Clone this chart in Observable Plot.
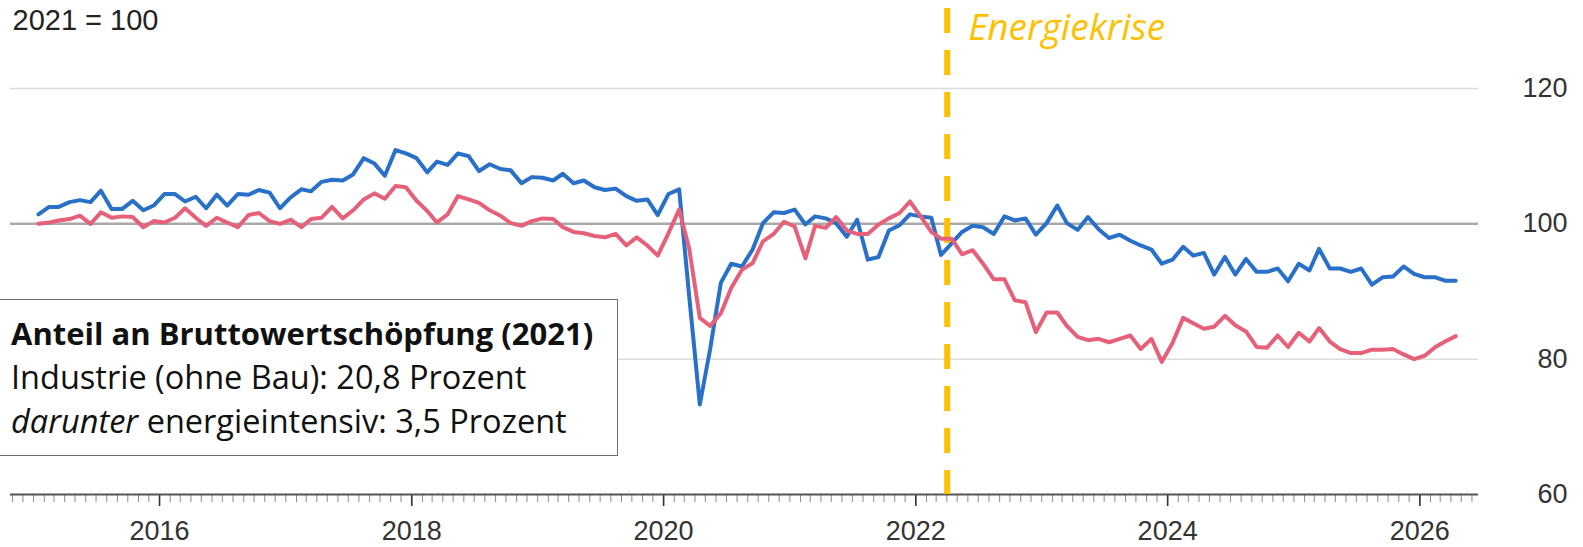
<!DOCTYPE html>
<html>
<head>
<meta charset="utf-8">
<script src="https://cdn.jsdelivr.net/npm/d3@7"></script>
<script src="https://cdn.jsdelivr.net/npm/@observablehq/plot@0.6"></script>
<style>
  html, body { margin: 0; padding: 0; background: #fff; }
  #wrap { position: relative; width: 1583px; height: 547px; overflow: hidden; }
  #legend {
    position: absolute; left: -2px; top: 299px; width: 620px; height: 157px;
    box-sizing: border-box; border: 1.5px solid #707070; background: #fff;
    font-family: "Open Sans", sans-serif; font-size: 32.5px; color: #111;
    padding: 11px 0 0 12px; line-height: 44px; white-space: nowrap;
  }
  #legend b { font-weight: 700; font-size: 31px; }
</style>
</head>
<body>
<div id="wrap"></div>
<script>
// ---- data ----
const startYear = 2015;          // first month: January 2015, monthly values
const industrie = [
  101.4,102.5,102.5,103.2,103.5,103.2,104.9,102.2,102.2,103.4,
  102.0,102.7,104.4,104.4,103.3,104.0,102.3,104.3,102.7,104.4,
  104.3,105.0,104.6,102.3,103.9,105.1,104.8,106.2,106.5,106.4,
  107.3,109.7,108.9,107.1,110.9,110.4,109.7,107.6,109.2,108.7,
  110.4,110.0,107.8,108.8,108.1,107.9,106.0,106.9,106.8,106.4,
  107.4,106.0,106.4,105.4,105.0,105.2,104.1,103.4,103.6,101.3,
  104.4,105.1,89.4,73.3,81.5,91.3,94.1,93.7,96.2,100.1,
  101.7,101.6,102.1,99.9,101.1,100.8,100.1,98.1,100.6,94.7,
  95.1,99.0,99.8,101.4,101.1,100.9,95.4,97.1,98.8,99.7,
  99.5,98.5,101.1,100.5,100.8,98.4,100.1,102.7,100.1,99.1,
  101.0,99.2,97.9,98.4,97.5,96.8,96.2,94.1,94.7,96.6,
  95.3,95.7,92.5,95.1,92.5,94.8,92.9,92.9,93.4,91.5,
  94.1,93.1,96.3,93.4,93.4,92.9,93.4,91.0,92.1,92.2,
  93.7,92.6,92.1,92.1,91.6,91.6
];
const energieintensiv = [
  100.0,100.2,100.5,100.7,101.2,100.0,101.7,100.9,101.1,101.0,
  99.5,100.4,100.2,100.9,102.3,100.9,99.7,100.9,100.2,99.5,
  101.3,101.6,100.4,100.0,100.6,99.5,100.7,100.9,102.5,100.8,
  102.0,103.6,104.5,103.7,105.6,105.4,103.4,101.9,100.2,101.4,
  104.1,103.6,103.1,102.0,101.2,100.1,99.7,100.4,100.8,100.7,
  99.5,98.8,98.6,98.2,98.0,98.5,96.8,98.0,96.8,95.3,
  98.6,102.1,96.4,86.1,84.9,86.8,90.5,93.2,94.2,97.4,
  98.5,100.3,99.6,94.9,99.7,99.4,101.0,99.0,98.5,98.5,
  99.9,100.8,101.6,103.3,101.1,98.8,97.8,97.8,95.5,96.1,
  94.1,91.8,91.8,88.7,88.4,84.0,86.9,86.9,84.9,83.3,
  82.8,83.0,82.5,83.0,83.5,81.5,83.0,79.6,82.4,86.1,
  85.3,84.5,84.8,86.4,85.0,84.1,81.8,81.7,83.5,81.8,
  83.9,82.6,84.6,82.6,81.5,80.9,80.9,81.4,81.4,81.5,
  80.7,80.0,80.5,81.8,82.6,83.4
];
const yTicks = [60, 80, 100, 120];
const yearLabels = ["2016", "2018", "2020", "2022", "2024", "2026"];
const crisisDateStr = "2022-04-02";
const crisisLabel = "Energiekrise";
const baseLabel = "2021 = 100";
const legendTitle = "Anteil an Bruttowertschöpfung (2021)";
const legendLine1 = "Industrie (ohne Bau): 20,8 Prozent";
const legendLine2a = "darunter";
const legendLine2b = " energieintensiv: 3,5 Prozent";

// ---- build tables ----
const toRows = arr => arr.map((v, i) => ({date: new Date(Date.UTC(startYear, i, 15)), v}));
const blueRows = toRows(industrie);
const redRows = toRows(energieintensiv);
const x0 = new Date(Date.UTC(2014, 9, 26));
const x1 = new Date(Date.UTC(2026, 5, 20));
const crisisDate = new Date(crisisDateStr);
const monthTicks = d3.utcMonth.range(x0, x1);
const yearTicks = yearLabels.map(y => new Date(Date.UTC(+y, 0, 1)));

const chart = Plot.plot({
  width: 1583, height: 547,
  marginLeft: 10, marginRight: 105, marginTop: 0, marginBottom: 53,
  x: {type: "utc", domain: [x0, x1], label: null},
  y: {domain: [60, 133], label: null, axis: null},
  style: {fontFamily: "'Liberation Sans', Arial, sans-serif", fontSize: "27px", color: "#333", background: "white", overflow: "visible"},
  marks: [
    Plot.ruleY([80, 120], {stroke: "#dcdcdc", strokeWidth: 1.5}),
    Plot.ruleY([100], {stroke: "#a9a9a9", strokeWidth: 2.5}),
    Plot.axisX({ticks: monthTicks, tickSize: 8, tickFormat: () => "", stroke: "#8a8a8a", strokeWidth: 1}),
    Plot.axisX({ticks: yearTicks, tickSize: 12, tickPadding: 14, tickFormat: d3.utcFormat("%Y"), stroke: "#333", strokeWidth: 1.6, fontSize: 27}),
    Plot.ruleY([60], {stroke: "#555", strokeWidth: 2}),
    Plot.text(yTicks, {y: d => d, frameAnchor: "right", textAnchor: "end", dx: 89, fontSize: 27, fill: "#333"}),
    Plot.text([baseLabel], {frameAnchor: "top-left", lineAnchor: "top", textAnchor: "start", dx: 2, dy: 9, fontSize: 29, fill: "#222"}),
    Plot.ruleX([crisisDate], {y1: 131.8, y2: 60, stroke: "#FFC000", strokeWidth: 6, strokeDasharray: "25,17"}),
    Plot.text([crisisLabel], {x: () => crisisDate, frameAnchor: "top", lineAnchor: "top", textAnchor: "start", dx: 21, dy: 13.5,
      fontSize: 37, fontStyle: "italic", fontFamily: "'Open Sans', sans-serif", fill: "#FFC000"}),
    Plot.line(blueRows, {x: "date", y: "v", stroke: "#2870C8", strokeWidth: 4, strokeLinejoin: "round"}),
    Plot.line(redRows, {x: "date", y: "v", stroke: "#E6607A", strokeWidth: 4, strokeLinejoin: "round"})
  ]
});
const wrap = document.getElementById("wrap");
wrap.appendChild(chart);

const legend = document.createElement("div");
legend.id = "legend";
const l1 = document.createElement("div"); const b = document.createElement("b"); b.textContent = legendTitle; l1.appendChild(b);
const l2 = document.createElement("div"); l2.textContent = legendLine1;
const l3 = document.createElement("div"); const it = document.createElement("i"); it.textContent = legendLine2a;
l3.appendChild(it); l3.appendChild(document.createTextNode(legendLine2b));
legend.append(l1, l2, l3);
wrap.appendChild(legend);
</script>
</body>
</html>
